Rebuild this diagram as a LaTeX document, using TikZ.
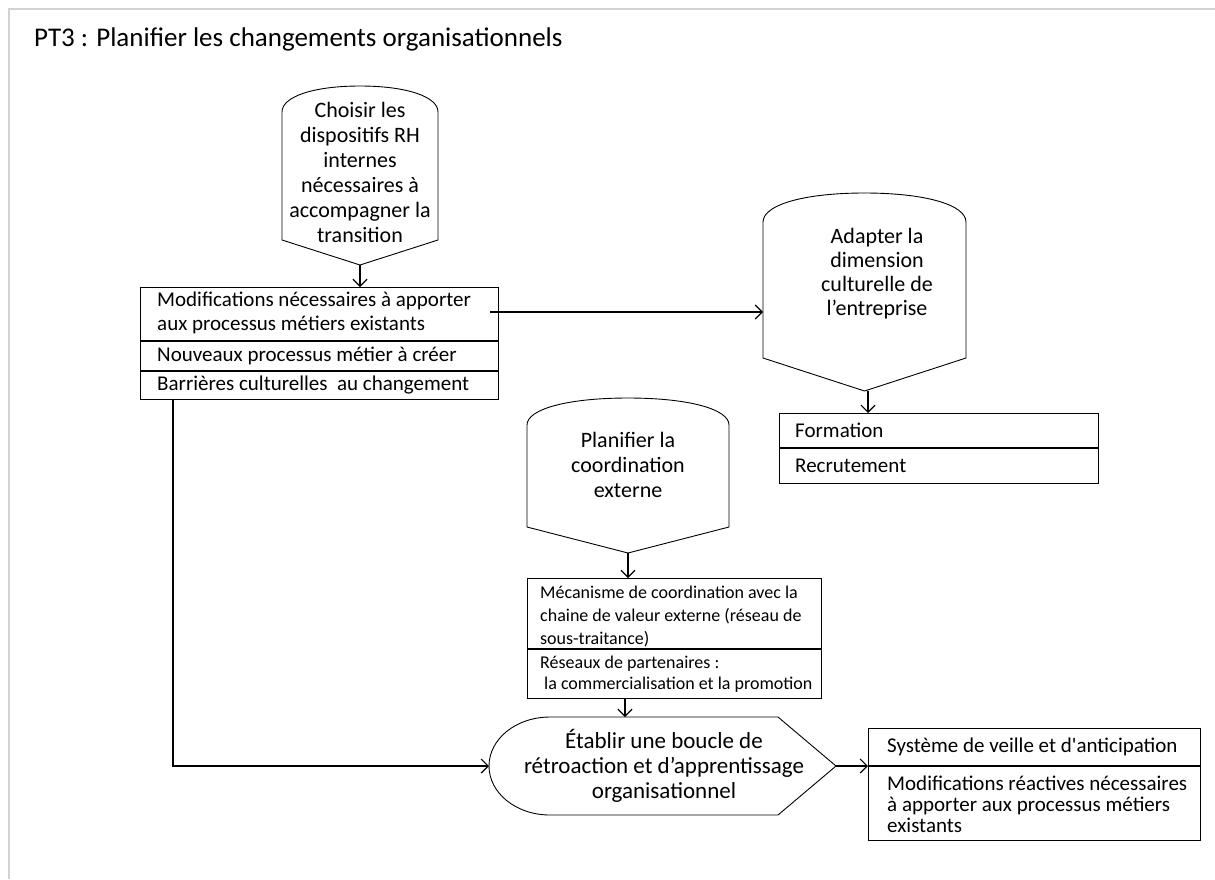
\documentclass[tikz,border=0pt]{standalone}
\usepackage{fontspec}
\setmainfont{Carlito}
\usetikzlibrary{arrows.meta}
\begin{document}
\begin{tikzpicture}[x=1pt,y=-1pt,
  shp/.style={draw=black, line width=0.9pt, line join=miter},
  bx/.style={draw=black, line width=1.1pt},
  conn/.style={draw=black, line width=1.4pt, -{Straight Barb[length=7pt,width=14pt,line width=1.2pt]}},
  shtxt/.style={align=center, inner sep=0pt, font=\fontsize{22}{25}\selectfont},
  bxtxt/.style={align=left, anchor=west, inner sep=0pt, font=\fontsize{21}{24}\selectfont},
  smtxt/.style={align=left, anchor=west, inner sep=0pt, font=\fontsize{18}{23}\selectfont},
]
\useasboundingbox (0,0) rectangle (1215,879);
\fill[white] (0,0) rectangle (1215,879);
\draw[gray!35, line width=1.5pt] (9,879) -- (9,9) -- (1215,9);

% title
\node[anchor=base west, inner sep=0pt, font=\fontsize{27}{32}\selectfont] (title) at (34,46) {PT3 : Planifier les changements organisationnels};

% shape A
\coordinate (Atip) at (360,265);
\draw[shp] (282,240) -- (282,112) .. controls (282,96.7) and (313.2,86) .. (360,86) .. controls (406.8,86) and (438,96.7) .. (438,112) -- (438,240) -- (Atip) -- cycle;
\node[shtxt] (Atext) at (360,172.5) {Choisir les\\dispositifs RH\\internes\\nécessaires à\\accompagner la\\transition};

% box B
\node[bx, anchor=north west, minimum width=358pt, minimum height=112pt, inner sep=0pt] (B) at (140,287) {};
\draw[bx] (140,341) -- (498,341);
\draw[bx] (140,371) -- (498,371);
\node[bxtxt] (B1) at (157,313) {Modifications nécessaires à apporter\\aux processus métiers existants};
\node[bxtxt] (B2) at (157,356) {Nouveaux processus métier à créer};
\node[bxtxt] (B3) at (157,385.5) {Barrières culturelles~ au changement};

% shape C
\coordinate (Ctip) at (864.5,391);
\coordinate (Cin) at (763,312);
\draw[shp] (763,358) -- (763,222) .. controls (763,204.9) and (803.6,193) .. (864.5,193) .. controls (925.4,193) and (966,204.9) .. (966,222) -- (966,358) -- (Ctip) -- cycle;
\node[shtxt, font=\fontsize{22}{24}\selectfont] (Ctext) at (877,274) {Adapter la\\dimension\\culturelle de\\l’entreprise};

% box D
\node[bx, anchor=north west, minimum width=319pt, minimum height=70pt, inner sep=0pt] (D) at (779,413) {};
\draw[bx] (779,448) -- (1098,448);
\node[bxtxt] (D1) at (795,430.5) {Formation};
\node[bxtxt] (D2) at (795,465.5) {Recrutement};

% shape E
\coordinate (Etip) at (628,553);
\draw[shp] (527,527) -- (527,425) .. controls (527,409.1) and (567.4,398) .. (628,398) .. controls (688.6,398) and (729,409.1) .. (729,425) -- (729,527) -- (Etip) -- cycle;
\node[shtxt] (Etext) at (628,465) {Planifier la\\coordination\\externe};

% box F
\node[bx, anchor=north west, minimum width=294pt, minimum height=120pt, inner sep=0pt] (F) at (527,578) {};
\draw[bx] (527,649) -- (821,649);
\node[smtxt] (F1) at (540,616) {Mécanisme de coordination avec la\\chaine de valeur externe (réseau de\\sous-traitance)};
\node[smtxt, font=\fontsize{18}{21}\selectfont] (F2) at (540,674) {Réseaux de partenaires :\\\hspace*{4pt}la commercialisation et la promotion};

% shape G
\coordinate (Gin) at (489,766);
\coordinate (Gout) at (836,766);
\draw[shp] (550,717) -- (778,717) -- (Gout) -- (778,815) -- (550,815) .. controls (516,815) and (489,793) .. (Gin) .. controls (489,739) and (516,717) .. (550,717) -- cycle;
\node[shtxt, font=\fontsize{23}{25}\selectfont] (Gtext) at (664,766) {Établir une boucle de\\rétroaction et d’apprentissage\\organisationnel};

% box H
\node[bx, anchor=north west, minimum width=332pt, minimum height=112pt, inner sep=0pt] (H) at (868,728) {};
\draw[bx] (868,766) -- (1200,766);
\node[bxtxt] (H1) at (887,747) {Système de veille et d\textquotesingle anticipation};
\node[bxtxt, font=\fontsize{21}{21}\selectfont] (H2) at (887,804) {Modifications réactives nécessaires\\à apporter aux processus métiers\\existants};

% connectors
\coordinate (Bout) at (490,312);
\coordinate (Bdown) at (173,399);
\draw[conn] (Atip) -- (Atip |- B.north);
\draw[conn] (Bout) -- (Cin);
\draw[conn] (868,391) -- (868,413);
\draw[conn] (Etip) -- (Etip |- F.north);
\draw[conn] (625,698) -- (625,717);
\draw[conn] (Bdown) |- (Gin);
\draw[conn] (Gout) -- (Gout -| H.west);
\end{tikzpicture}
\end{document}
